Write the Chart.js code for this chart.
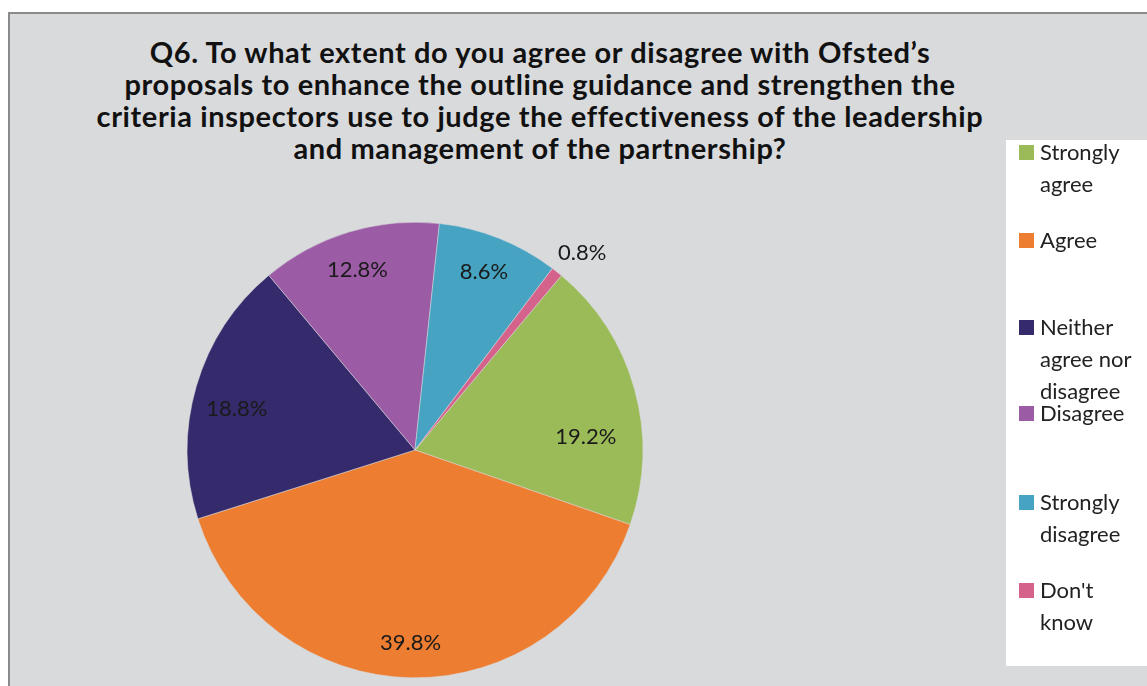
<!DOCTYPE html>
<html>
<head>
<meta charset="utf-8">
<script src="https://cdn.jsdelivr.net/npm/chart.js@4.4.0/dist/chart.umd.min.js"></script>
<style>
  body { margin: 0; background: #fff; width: 1147px; height: 686px; overflow: hidden; position: relative; font-family: Lato, "Open Sans", sans-serif; }
  #frame { position: absolute; left: 8px; top: 12px; width: 1145px; height: 680px; background: #d9dadc; border-left: 2px solid #8a8a8a; border-top: 2px solid #8a8a8a; }
  #title { position: absolute; left: 0; top: 36px; width: 1080px; text-align: center; font-weight: bold; font-size: 29px; letter-spacing: 0.6px; line-height: 32px; color: #111; }
  #wrap { position: absolute; left: 0; top: 0; width: 1147px; height: 686px; }
  #legend { position: absolute; left: 1006px; top: 140px; width: 141px; height: 526px; background: #fff; }
  .item { position: absolute; left: 13px; font-size: 22px; line-height: 32px; color: #222; }
  .item span.box { position: absolute; left: 0; top: 9px; width: 15px; height: 15px; }
  .item div { margin-left: 21px; white-space: nowrap; }
</style>
</head>
<body>
<div id="frame"></div>
<div id="title">Q6. To what extent do you agree or disagree with Ofsted’s<br>proposals to enhance the outline guidance and strengthen the<br>criteria inspectors use to judge the effectiveness of the leadership<br>and management of the partnership?</div>
<div id="wrap"><canvas id="chart" width="1147" height="686"></canvas></div>
<div id="legend"></div>
<script>
const categories = ['Strongly agree', 'Agree', 'Neither agree nor disagree', 'Disagree', 'Strongly disagree', "Don't know"];
const legendLines = [['Strongly', 'agree'], ['Agree'], ['Neither', 'agree nor', 'disagree'], ['Disagree'], ['Strongly', 'disagree'], ["Don't", 'know']];
const values = [19.2, 39.8, 18.8, 12.8, 8.6, 0.8];
const colors = ['#9bbb59', '#ed7d31', '#352a6b', '#9b5ba5', '#46a3c1', '#d5628a'];

// legend on the right, one item per category
const legendEl = document.getElementById('legend');
const itemTops = [-4, 84, 171, 257, 346, 434];
categories.forEach((c, i) => {
  const item = document.createElement('div');
  item.className = 'item';
  item.style.top = itemTops[i] + 'px';
  const box = document.createElement('span');
  box.className = 'box';
  box.style.background = colors[i];
  item.appendChild(box);
  legendLines[i].forEach(t => {
    const line = document.createElement('div');
    line.textContent = t;
    item.appendChild(line);
  });
  legendEl.appendChild(item);
});

// small nudges so labels sit where Excel's "best fit" put them
const nudge = [[-7, 36], [-2, 8], [-1, 10], [-4, -4], [1, -7], [4, 8]];

const pctLabels = {
  id: 'pctLabels',
  afterDatasetsDraw(chart) {
    const c = chart.ctx;
    const meta = chart.getDatasetMeta(0);
    c.save();
    c.font = '22px Lato, "Open Sans", sans-serif';
    c.fillStyle = '#1a1a1a';
    c.textAlign = 'center';
    c.textBaseline = 'middle';
    meta.data.forEach((arc, i) => {
      const mid = (arc.startAngle + arc.endAngle) / 2;
      const r = arc.outerRadius * (values[i] < 2 ? 1.15 : 0.81);
      const x = arc.x + Math.cos(mid) * r + nudge[i][0];
      const y = arc.y + Math.sin(mid) * r + nudge[i][1];
      c.fillText(values[i].toFixed(1) + '%', x, y);
    });
    c.restore();
  }
};

new Chart(document.getElementById('chart'), {
  type: 'pie',
  data: {
    labels: categories,
    datasets: [{
      data: values,
      backgroundColor: colors,
      borderColor: '#d9dadc',
      borderWidth: 0.5
    }]
  },
  options: {
    responsive: false,
    animation: false,
    rotation: 40,
    layout: { padding: { left: 187, right: 504, top: 222, bottom: 8 } },
    plugins: {
      legend: { display: false },
      tooltip: { enabled: false }
    }
  },
  plugins: [pctLabels]
});
</script>
</body>
</html>
